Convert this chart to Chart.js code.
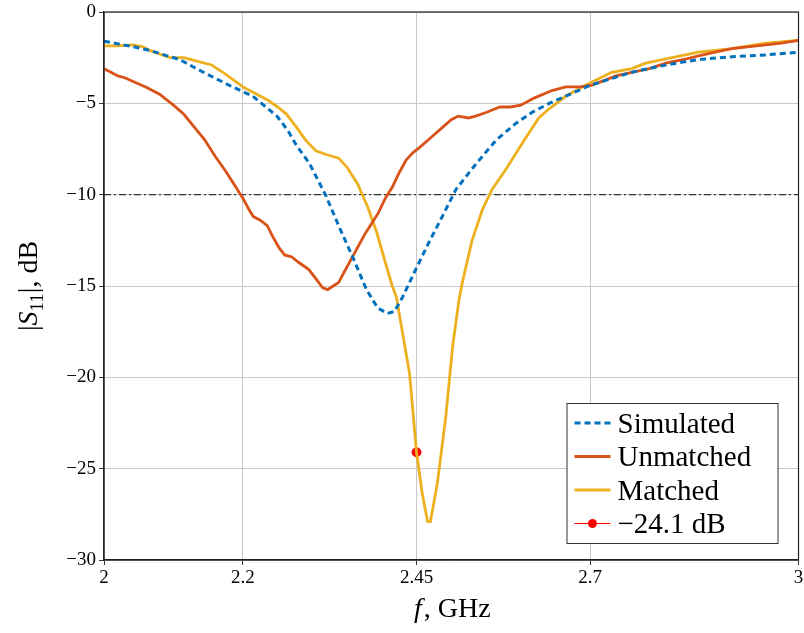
<!DOCTYPE html>
<html>
<head>
<meta charset="utf-8">
<script src="https://cdn.jsdelivr.net/npm/chart.js@4"></script>
<style>
  html, body { margin: 0; padding: 0; background: #fff; }
  canvas { display: block; }
</style>
</head>
<body>
<canvas id="s11_plot" width="804" height="633"></canvas>
<script>
// frequency (GHz) and |S11| (dB)
const simF  = [2.000, 2.042, 2.066, 2.091, 2.109, 2.138, 2.185, 2.214, 2.249, 2.265, 2.277, 2.296, 2.320, 2.339, 2.358, 2.378, 2.394, 2.408, 2.418, 2.430, 2.450, 2.468, 2.487, 2.507, 2.536, 2.565, 2.593, 2.616, 2.641, 2.665, 2.701, 2.760, 2.809, 2.856, 2.904, 2.953, 3.000];
const simDb = [-1.6, -1.9, -2.1, -2.4, -2.6, -3.2, -4.1, -4.6, -5.7, -6.5, -7.3, -8.3, -10.1, -11.8, -13.4, -15.2, -16.2, -16.5, -16.4, -15.6, -14.0, -12.6, -11.2, -9.7, -8.3, -7.0, -6.1, -5.5, -5.0, -4.6, -4.0, -3.3, -2.9, -2.6, -2.45, -2.35, -2.2];

const unF  = [2.000, 2.010, 2.020, 2.030, 2.042, 2.060, 2.080, 2.100, 2.115, 2.130, 2.145, 2.160, 2.175, 2.190, 2.200, 2.210, 2.215, 2.225, 2.235, 2.243, 2.252, 2.260, 2.270, 2.280, 2.295, 2.305, 2.315, 2.322, 2.330, 2.338, 2.345, 2.355, 2.365, 2.375, 2.385, 2.395, 2.405, 2.415, 2.425, 2.435, 2.445, 2.455, 2.470, 2.485, 2.500, 2.510, 2.525, 2.535, 2.550, 2.570, 2.585, 2.600, 2.620, 2.645, 2.665, 2.685, 2.703, 2.737, 2.760, 2.785, 2.809, 2.835, 2.856, 2.880, 2.904, 2.930, 2.953, 2.975, 3.000];
const unDb = [-3.1, -3.3, -3.5, -3.6, -3.8, -4.1, -4.5, -5.1, -5.6, -6.3, -7.0, -7.9, -8.7, -9.6, -10.2, -10.9, -11.2, -11.4, -11.7, -12.3, -12.9, -13.3, -13.4, -13.7, -14.1, -14.6, -15.1, -15.2, -15.0, -14.8, -14.3, -13.6, -12.9, -12.2, -11.6, -11.0, -10.2, -9.6, -8.8, -8.1, -7.7, -7.4, -6.9, -6.4, -5.9, -5.7, -5.8, -5.7, -5.5, -5.2, -5.2, -5.1, -4.7, -4.3, -4.1, -4.1, -4.0, -3.5, -3.3, -3.1, -2.8, -2.6, -2.4, -2.2, -2.0, -1.9, -1.8, -1.7, -1.55];

const matF  = [2.000, 2.020, 2.042, 2.055, 2.066, 2.080, 2.095, 2.115, 2.135, 2.155, 2.175, 2.200, 2.220, 2.235, 2.250, 2.263, 2.277, 2.290, 2.305, 2.320, 2.338, 2.350, 2.365, 2.380, 2.393, 2.405, 2.415, 2.421, 2.430, 2.440, 2.450, 2.458, 2.466, 2.470, 2.480, 2.492, 2.502, 2.511, 2.516, 2.530, 2.545, 2.559, 2.579, 2.602, 2.626, 2.641, 2.665, 2.694, 2.731, 2.760, 2.780, 2.818, 2.856, 2.904, 2.953, 3.000];
const matDb = [-1.85, -1.85, -1.8, -1.9, -2.1, -2.3, -2.5, -2.5, -2.7, -2.9, -3.4, -4.1, -4.5, -4.8, -5.2, -5.6, -6.3, -7.0, -7.6, -7.8, -8.0, -8.5, -9.4, -10.7, -12.1, -13.7, -15.0, -15.6, -17.6, -19.8, -24.1, -26.3, -27.9, -27.9, -25.8, -22.2, -18.3, -15.8, -14.8, -12.5, -10.8, -9.7, -8.6, -7.2, -5.8, -5.3, -4.6, -4.0, -3.3, -3.1, -2.8, -2.5, -2.2, -2.0, -1.7, -1.55];

const markerF  = [2.45];
const markerDb = [-24.1];

const refF  = [2, 3];
const refDb = [-10, -10];

const xTicks = [2, 2.2, 2.45, 2.7, 3];
const yTicks = [-30, -25, -20, -15, -10, -5, 0];

const seriesNames = ["Simulated", "Unmatched", "Matched", "\u221224.1 dB"];

const SERIF = "'Liberation Serif', 'DejaVu Serif', serif";

function pts(xs, ys) {
    return xs.map((x, i) => ({ x: x, y: ys[i] }));
}

// black box round the plot area
const frame = {
    id: "frame",
    afterDatasetsDraw(chart) {
        const a = chart.chartArea, c = chart.ctx;
        c.save();
        c.strokeStyle = "#222";
        c.lineWidth = 1.2;
        c.strokeRect(a.left, a.top, a.right - a.left, a.bottom - a.top);
        c.restore();
    }
};

// axis titles with italic symbols
const titles = {
    id: "titles",
    afterDraw(chart) {
        const a = chart.chartArea, c = chart.ctx;
        c.save();
        c.fillStyle = "#000";
        c.textBaseline = "alphabetic";
        // x title: f, GHz
        const fi = "italic 28px " + SERIF, fr = "28px " + SERIF;
        c.font = fi; const w1 = c.measureText("f").width;
        c.font = fr; const w2 = c.measureText(", GHz").width;
        let x0 = (a.left + a.right) / 2 - (w1 + w2) / 2;
        c.font = fi; c.fillText("f", x0, 617);
        c.font = fr; c.fillText(", GHz", x0 + w1 + 2, 617);

        // y title: |S11|, dB
        c.translate(37, (a.top + a.bottom) / 2);
        c.rotate(-Math.PI / 2);
        const parts = [
            ["|", fr, 0], ["S", fi, 0], ["11", "19px " + SERIF, 6], ["|, dB", fr, 0]
        ];
        let tw = 0;
        parts.forEach(p => { c.font = p[1]; tw += c.measureText(p[0]).width; });
        let px = -tw / 2;
        parts.forEach(p => {
            c.font = p[1];
            c.fillText(p[0], px, p[2]);
            px += c.measureText(p[0]).width;
        });
        c.restore();
    }
};

// legend box inside the lower right corner
const boxLegend = {
    id: "boxLegend",
    afterDraw(chart) {
        const a = chart.chartArea, c = chart.ctx;
        const bw = 211, bh = 140;
        const bx = a.right - 21 - bw, by = a.bottom - 17 - bh;
        c.save();
        c.fillStyle = "#fff";
        c.fillRect(bx, by, bw, bh);
        c.strokeStyle = "#333";
        c.lineWidth = 1;
        c.strokeRect(bx + 0.5, by + 0.5, bw, bh);
        const ds = chart.data.datasets;
        c.font = "29px " + SERIF;
        c.textBaseline = "middle";
        for (let i = 0; i < 4; i++) {
            const d = ds[i];
            const y = by + 20 + i * 33.5;
            c.beginPath();
            c.strokeStyle = d.borderColor;
            c.lineWidth = i === 3 ? 1.2 : d.borderWidth;
            c.setLineDash(d.borderDash || []);
            c.moveTo(bx + 8, y);
            c.lineTo(bx + 44, y);
            c.stroke();
            c.setLineDash([]);
            if (i === 3) {
                c.beginPath();
                c.fillStyle = d.pointBackgroundColor;
                c.arc(bx + 26, y, 4.5, 0, Math.PI * 2);
                c.fill();
            }
            c.fillStyle = "#000";
            c.fillText(seriesNames[i], bx + 51, y + 2);
        }
        c.restore();
    }
};

new Chart(document.getElementById("s11_plot"), {
    type: "line",
    data: {
        datasets: [
            {
                label: seriesNames[0],
                data: pts(simF, simDb),
                borderColor: "#0072BD",
                borderWidth: 3,
                borderDash: [6, 4],
                pointRadius: 0,
                fill: false
            },
            {
                label: seriesNames[1],
                data: pts(unF, unDb),
                borderColor: "#D95319",
                borderWidth: 2.8,
                pointRadius: 0,
                fill: false
            },
            {
                label: seriesNames[2],
                data: pts(matF, matDb),
                borderColor: "#EDB120",
                borderWidth: 2.8,
                pointRadius: 0,
                fill: false
            },
            {
                label: seriesNames[3],
                data: pts(markerF, markerDb),
                borderColor: "#FF0000",
                backgroundColor: "#FF0000",
                pointBackgroundColor: "#FF0000",
                pointBorderColor: "#FF0000",
                pointRadius: 4.5,
                showLine: false,
                borderWidth: 1
            },
            {
                label: "ref",
                data: pts(refF, refDb),
                borderColor: "#333",
                borderWidth: 1.3,
                borderDash: [7, 3, 2, 3],
                pointRadius: 0,
                fill: false,
                order: 10
            }
        ]
    },
    options: {
        responsive: false,
        animation: false,
        layout: { padding: { left: 0, right: 3, top: 12, bottom: 0 } },
        plugins: {
            legend: { display: false },
            tooltip: { enabled: false }
        },
        scales: {
            x: {
                type: "linear",
                min: 2,
                max: 3,
                afterBuildTicks: s => { s.ticks = xTicks.map(v => ({ value: v })); },
                afterFit: s => { s.height = 73; s.paddingLeft = 0; s.paddingRight = 0; },
                ticks: {
                    autoSkip: false,
                    maxRotation: 0,
                    padding: 2,
                    color: "#000",
                    font: { family: SERIF, size: 19 },
                    callback: v => String(v)
                },
                grid: { color: "#c8c8c8", lineWidth: 1, tickLength: 5, tickColor: "#333" },
                border: { color: "#222", width: 1.2 }
            },
            y: {
                type: "linear",
                min: -30,
                max: 0,
                afterBuildTicks: s => { s.ticks = yTicks.map(v => ({ value: v })); },
                afterFit: s => { s.width = 104; s.paddingTop = 0; s.paddingBottom = 0; },
                ticks: {
                    padding: 3,
                    color: "#000",
                    font: { family: SERIF, size: 19 },
                    callback: v => (v < 0 ? "\u2212" + Math.abs(v) : String(v))
                },
                grid: { color: "#c8c8c8", lineWidth: 1, tickLength: 5, tickColor: "#333" },
                border: { color: "#222", width: 1.2 }
            }
        }
    },
    plugins: [frame, titles, boxLegend]
});
</script>
</body>
</html>
